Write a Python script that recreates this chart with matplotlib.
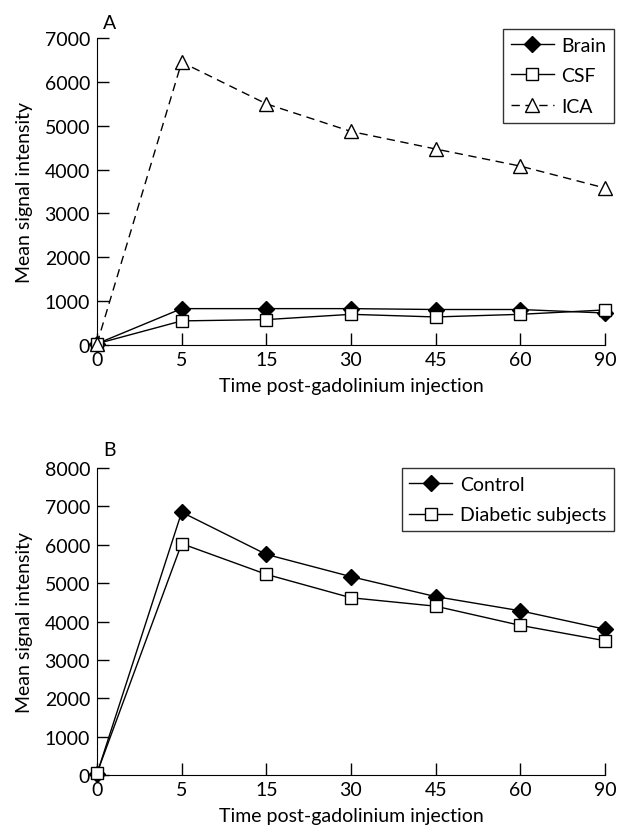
import matplotlib

matplotlib.use("Agg")

import matplotlib.pyplot as plt

TIMES = ["0", "5", "15", "30", "45", "60", "90"]

BRAIN = [30, 830, 830, 830, 810, 810, 730]
CSF = [30, 550, 580, 700, 640, 700, 800]
ICA = [30, 6450, 5500, 4870, 4470, 4080, 3580]

CONTROL = [30, 6850, 5750, 5170, 4650, 4280, 3800]
DIABETIC = [50, 6030, 5230, 4620, 4400, 3900, 3500]

plt.rcParams["font.family"] = ["Lato", "DejaVu Sans"]
FS = 14


def style_axes(ax, ymax):
    x = range(len(TIMES))
    ax.set_xlim(0, len(TIMES) - 1)
    ax.set_ylim(0, ymax)
    ax.set_xticks(list(x))
    ax.set_xticklabels(TIMES)
    ax.set_yticks(range(0, ymax + 1, 1000))
    ax.spines["top"].set_visible(False)
    ax.spines["right"].set_visible(False)
    ax.tick_params(direction="in", length=8.5, width=1, labelsize=FS)
    ax.tick_params(axis="y", pad=5)
    ax.tick_params(axis="x", pad=4)
    ax.set_xlabel("Time post-gadolinium injection", fontsize=FS, labelpad=7)
    ax.set_ylabel("Mean signal intensity", fontsize=FS, labelpad=8)


def line(ax, values, marker, fill, ls, label, size):
    kw = {}
    if ls == "--":
        kw["dashes"] = (6, 4)
    ax.plot(range(len(values)), values, ls, color="black", linewidth=1,
            marker=marker, markersize=size, markerfacecolor=fill,
            markeredgecolor="black", markeredgewidth=1, label=label,
            clip_on=False, zorder=3, **kw)


def add_legend(ax, anchor):
    leg = ax.legend(loc="upper right", bbox_to_anchor=anchor, frameon=True,
                    fancybox=False, edgecolor="black", handlelength=2.2,
                    borderpad=0.4, labelspacing=0.7, handletextpad=0.4,
                    borderaxespad=0, fontsize=FS)
    leg.get_frame().set_linewidth(1)


fig = plt.figure(figsize=(6.17, 8.29), dpi=100)
ax_a = fig.add_axes([0.1572, 0.5826, 0.8233, 0.3703])
ax_b = fig.add_axes([0.1572, 0.0639, 0.8233, 0.3703])

line(ax_a, BRAIN, "D", "black", "-", "Brain", 8)
line(ax_a, CSF, "s", "white", "-", "CSF", 9)
line(ax_a, ICA, "^", "white", "--", "ICA", 10)
style_axes(ax_a, 7000)
add_legend(ax_a, (1.018, 1.03))
ax_a.text(0.012, 1.05, "A", transform=ax_a.transAxes, fontsize=FS, va="center")

line(ax_b, CONTROL, "D", "black", "-", "Control", 8)
line(ax_b, DIABETIC, "s", "white", "-", "Diabetic subjects", 9)
style_axes(ax_b, 8000)
add_legend(ax_b, (1.018, 1.0))
ax_b.text(0.012, 1.062, "B", transform=ax_b.transAxes, fontsize=FS, va="center")

fig.savefig("out.png", dpi=100)
